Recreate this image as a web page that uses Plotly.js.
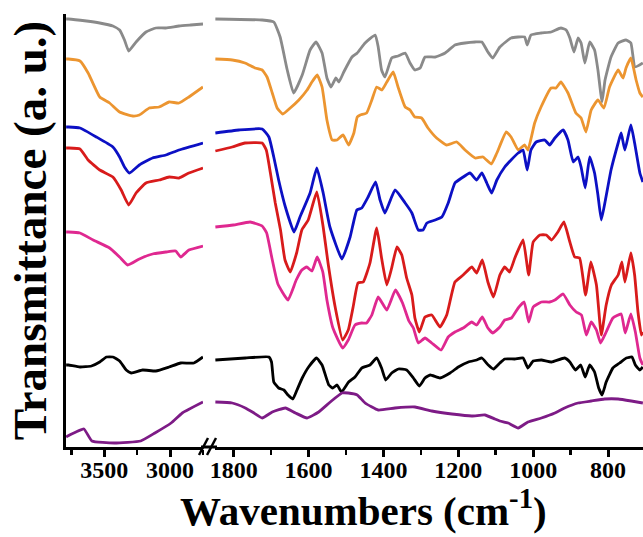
<!DOCTYPE html>
<html><head><meta charset="utf-8">
<script src="https://cdn.plot.ly/plotly-3.0.1.min.js"></script>
<style>html,body{margin:0;padding:0;background:#fff}#chart{width:643px;height:537px}</style>
</head><body><div id="chart"></div>
<script>
// ---- high-wavenumber region (3790-2750 cm-1) ----
const grayHighX = [3789,3772,3634,3534,3434,3383,3346,3314,3258,3183,3108,3032,2932,2844,2750];
const grayHighY = [428,428,426,424,421,417,407,396,405,415,419,419,421,422,423];
const orangeHighX = [3789,3772,3684,3622,3534,3459,3383,3283,3233,3158,3083,3007,2932,2857,2750];
const orangeHighY = [388,388,386,374,350,344,335,331,332,339,340,345,344,350,360];
const blueHighX = [3789,3772,3684,3559,3434,3383,3346,3308,3233,3133,3032,2932,2750];
const blueHighY = [320,320,319,310,300,290,280,274,282,289,292,297,304];
const redHighX = [3789,3772,3684,3622,3534,3434,3371,3314,3258,3183,3083,3007,2932,2857,2750];
const redHighY = [299,299,298,287,277,270,257,242,254,264,267,270,269,274,279];
const pinkHighX = [3789,3772,3684,3584,3459,3383,3321,3233,3133,3032,2957,2919,2857,2750];
const pinkHighY = [215,215,214,207,199,190,182,188,193,195,196,190,197,201];
const blackHighX = [3789,3772,3684,3597,3534,3483,3434,3383,3333,3295,3208,3108,3007,2919,2819,2750];
const blackHighY = [82,82,80,81,85,90,90,86,77,74,77,76,80,84,84,90];
const purpleHighX = [3789,3777,3714,3654,3593,3423,3223,3115,2992,2907,2750];
const purpleHighY = [10,11,15,18,6,4,6,14,24,34,45];

// ---- fingerprint region (1850-705 cm-1) ----
const grayLowX = [1849,1724,1693,1676,1657,1640,1617,1596,1580,1564,1551,1540,1527,1519,1506,1484,1470,1449,1422,1414,1405,1396,1378,1361,1342,1329,1316,1302,1289,1262,1235,1209,1182,1155,1137,1121,1108,1089,1059,1023,1016,1006,979,952,926,912,902,891,880,872,862,849,836,827,816,808,792,773,752,739,728,707];
const grayLowY = [428,427,425,410,377,354,372,397,405,394,369,360,369,365,375,390,394,404,412,400,377,370,389,391,394,384,377,379,390,390,394,402,404,405,405,395,389,400,409,410,402,412,414,415,419,417,409,395,409,404,384,405,397,377,345,367,390,404,407,404,380,384];
const orangeLowX = [1849,1804,1770,1743,1724,1711,1697,1684,1669,1649,1626,1604,1591,1577,1564,1551,1537,1524,1508,1493,1479,1470,1462,1445,1431,1418,1404,1391,1374,1361,1342,1329,1316,1298,1281,1258,1231,1204,1182,1155,1134,1112,1097,1072,1059,1040,1023,1014,996,979,952,939,926,907,886,872,859,845,827,811,796,773,760,752,739,725,715,707];
const orangeLowY = [388,387,384,379,377,370,354,339,333,339,347,357,365,372,360,327,307,307,312,302,314,330,332,334,347,360,357,365,375,360,340,337,330,329,319,309,302,305,297,289,290,283,294,315,310,297,302,297,324,340,359,359,365,354,334,329,315,337,347,339,360,377,369,379,389,367,354,350];
const blueLowX = [1849,1786,1724,1706,1693,1680,1662,1639,1623,1596,1578,1561,1543,1511,1489,1471,1458,1441,1421,1409,1396,1369,1342,1324,1307,1294,1284,1262,1244,1227,1209,1191,1169,1151,1137,1124,1111,1097,1076,1059,1040,1027,1016,1006,992,969,956,942,920,907,893,880,872,861,849,836,827,818,807,792,773,765,755,739,729,715,707];
const blueLowY = [314,317,318,310,290,267,240,215,230,254,279,254,220,188,210,237,239,250,265,247,234,257,244,234,217,217,224,227,230,244,264,269,274,267,274,264,254,267,280,287,294,297,277,297,305,307,302,309,317,307,285,290,280,259,290,274,252,227,247,277,304,314,297,322,304,274,265];
const redLowX = [1849,1804,1770,1724,1713,1702,1689,1675,1663,1649,1632,1618,1601,1578,1561,1548,1529,1509,1494,1481,1468,1454,1436,1418,1405,1391,1378,1364,1351,1338,1324,1316,1304,1289,1271,1249,1231,1209,1187,1164,1151,1136,1121,1106,1089,1076,1063,1049,1027,1012,1000,982,965,951,934,918,902,889,876,860,846,831,818,805,791,773,763,755,739,729,720,711,707];
const redLowY = [296,300,304,304,297,274,244,217,187,175,194,217,227,255,220,184,140,107,117,140,164,165,184,219,189,162,179,200,192,169,152,129,115,130,132,120,132,165,172,180,174,187,165,150,172,180,175,189,207,172,205,212,212,207,215,225,205,190,189,152,185,162,112,142,162,172,185,165,194,172,135,112,115];
const pinkLowX = [1849,1801,1756,1724,1712,1698,1682,1655,1633,1618,1605,1591,1577,1562,1551,1535,1509,1494,1476,1458,1445,1431,1414,1391,1368,1349,1332,1320,1307,1289,1271,1246,1227,1209,1187,1164,1151,1136,1121,1108,1089,1076,1058,1040,1024,1012,1000,978,956,942,920,902,885,871,858,845,831,820,805,787,765,754,739,727,715,707];
const pinkLowY = [220,222,225,221,214,189,163,147,167,177,180,176,190,175,147,119,99,107,122,124,124,132,150,137,157,144,126,119,104,109,104,97,110,115,119,125,122,130,119,114,120,127,129,139,145,125,140,145,145,147,153,142,135,132,112,125,117,104,115,129,133,114,133,115,89,82];
const blackLowX = [1849,1769,1706,1699,1693,1680,1666,1655,1642,1631,1617,1600,1579,1564,1546,1535,1524,1512,1493,1476,1458,1436,1418,1405,1394,1378,1360,1338,1320,1304,1289,1275,1249,1222,1200,1173,1151,1137,1120,1106,1089,1076,1049,1027,1014,1000,978,951,916,902,887,873,861,849,836,825,816,805,787,769,751,736,727,715,707];
const blackLowY = [87,89,90,85,65,59,57,52,48,57,69,80,89,82,62,59,62,55,65,70,79,82,89,79,67,74,78,77,69,61,69,72,69,74,80,85,87,89,82,78,84,88,88,89,79,86,87,85,89,85,77,82,70,82,75,59,52,65,79,84,89,90,82,77,80];
const purpleLowX = [1849,1804,1769,1746,1724,1697,1662,1635,1604,1573,1542,1511,1494,1470,1449,1414,1369,1316,1271,1217,1164,1129,1102,1089,1067,1040,1014,978,942,916,880,845,809,773,738,707];
const purpleLowY = [45,44,39,34,29,35,39,34,29,35,45,54,54,52,44,37,39,40,36,33,31,32,28,26,24,19,25,29,34,39,44,46,48,48,46,44];

const seriesNames = ['gray','orange','blue','red','pink','black','purple'];
const seriesColors = ['#8a8a8a','#ec9530','#0c10c4','#d81b1b','#df2890','#000000','#7d1b86'];
const highX = [grayHighX,orangeHighX,blueHighX,redHighX,pinkHighX,blackHighX,purpleHighX];
const highY = [grayHighY,orangeHighY,blueHighY,redHighY,pinkHighY,blackHighY,purpleHighY];
const lowX = [grayLowX,orangeLowX,blueLowX,redLowX,pinkLowX,blackLowX,purpleLowX];
const lowY = [grayLowY,orangeLowY,blueLowY,redLowY,pinkLowY,blackLowY,purpleLowY];

const traces = [];
seriesNames.forEach((n, i) => {
  const line = {color: seriesColors[i], width: 2.8, shape: 'spline', smoothing: 0.4};
  traces.push({x: highX[i], y: highY[i], xaxis: 'x', yaxis: 'y', mode: 'lines', name: n, line, showlegend: false, hoverinfo: 'skip'});
  traces.push({x: lowX[i], y: lowY[i], xaxis: 'x2', yaxis: 'y', mode: 'lines', name: n, line, showlegend: false, hoverinfo: 'skip'});
});

const FONT = 'Liberation Serif, Times New Roman, serif';
const W = 643, H = 537, L = 66, R = 0, T = 14, B = 90;
const pw = W - L - R, ph = H - T - B;
const px = v => (v - L) / pw;
const py = v => (T + ph - v) / ph;

const xCommon = {
  showline: true, linecolor: '#000', linewidth: 3, mirror: false,
  ticks: 'outside', ticklen: 7, tickwidth: 3, tickcolor: '#000',
  ticklabelstandoff: -8,
  showgrid: false, zeroline: false, anchor: 'y',
  tickfont: {family: FONT, size: 24, color: '#000', weight: 'bold'},
  fixedrange: true
};

const layout = {
  width: W, height: H,
  margin: {l: L, r: R, t: T, b: B},
  paper_bgcolor: '#fff', plot_bgcolor: '#fff',
  xaxis: Object.assign({}, xCommon, {
    domain: [0, px(203)], range: [3790, 2750], tick0: 3000, dtick: 500,
    minor: {dtick: 250, tick0: 3000, ticks: 'outside', ticklen: 5, tickwidth: 2.5, tickcolor: '#000'}
  }),
  xaxis2: Object.assign({}, xCommon, {
    domain: [px(215), 1], range: [1850, 706.6], tick0: 800, dtick: 200,
    minor: {dtick: 100, tick0: 800, ticks: 'outside', ticklen: 5, tickwidth: 2.5, tickcolor: '#000'}
  }),
  yaxis: {
    range: [0, ph], showline: true, linecolor: '#000', linewidth: 3,
    ticks: '', showticklabels: false, showgrid: false, zeroline: false, fixedrange: true,
    title: {text: 'Transmittance (a. u.)', font: {family: FONT, size: 47, color: '#000', weight: 'bold'}, standoff: 2}
  },
  shapes: [
    {type: 'line', xref: 'paper', yref: 'paper', x0: px(201), x1: px(217), y0: 0, y1: 0, line: {color: '#000', width: 3}},
    {type: 'line', xref: 'paper', yref: 'paper', x0: px(199), y0: py(455), x1: px(208), y1: py(438), line: {color: '#000', width: 2.5}},
    {type: 'line', xref: 'paper', yref: 'paper', x0: px(207), y0: py(455), x1: px(216), y1: py(438), line: {color: '#000', width: 2.5}}
  ],
  annotations: [
    {xref: 'paper', yref: 'paper', x: px(363), y: py(508), xanchor: 'center', yanchor: 'middle', showarrow: false,
     text: 'Wavenumbers (cm<sup>-1</sup>)', font: {family: FONT, size: 41, color: '#000', weight: 'bold'}}
  ]
};

Plotly.newPlot('chart', traces, layout, {staticPlot: true, displayModeBar: false}).then(gd => {
  gd.querySelectorAll('text').forEach(t => { if (!t.textContent.trim()) t.remove(); });
});
</script>
</body></html>
